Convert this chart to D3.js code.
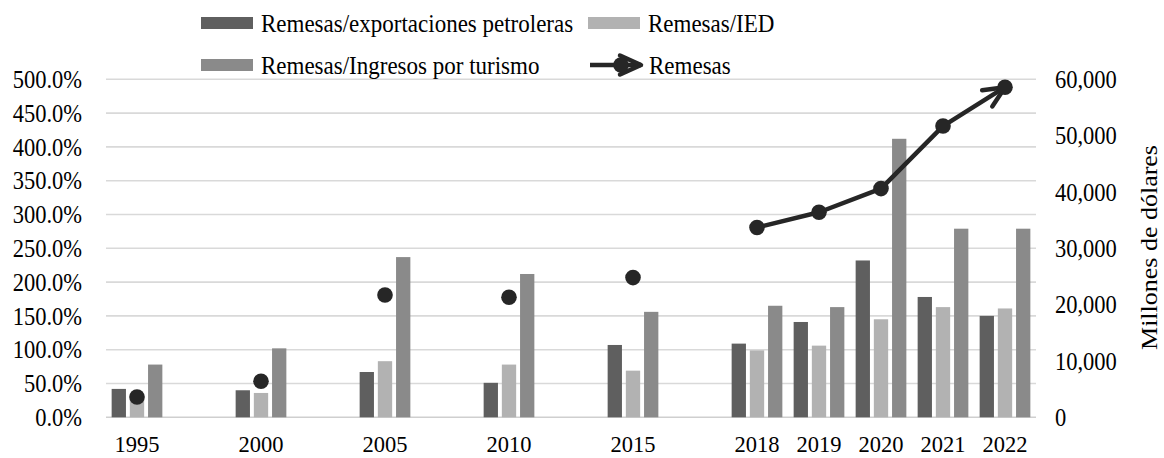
<!DOCTYPE html>
<html>
<head>
<meta charset="utf-8">
<script src="https://cdn.jsdelivr.net/npm/d3@7"></script>
<style>
  body { margin: 0; background: #fff; }
  svg text { font-family: "Liberation Serif", "Times New Roman", serif; fill: #000; }
</style>
</head>
<body>
<svg id="chart" width="1164" height="458"></svg>
<script>
// Categories. Empty slots keep the gaps between the five-year points.
var years = ["1995", "", "2000", "", "2005", "", "2010", "", "2015", "", "2018", "2019", "2020", "2021", "2022"];

// Ratios in percent (left axis).
var petroleras = [42, null, 40, null, 67, null, 51, null, 107, null, 109, 141, 232, 178, 150];
var ied        = [27, null, 36, null, 83, null, 78, null, 69, null, 99, 106, 145, 163, 161];
var turismo    = [78, null, 102, null, 237, null, 212, null, 156, null, 165, 163, 412, 279, 279];

// Remesas in millones de dólares (right axis).
var remesas = [3600, null, 6400, null, 21700, null, 21300, null, 24800, null, 33700, 36400, 40600, 51700, 58600];

var leftTicks  = [0, 50, 100, 150, 200, 250, 300, 350, 400, 450, 500];
var rightTicks = [0, 10000, 20000, 30000, 40000, 50000, 60000];

var barNames  = ["Remesas/exportaciones petroleras", "Remesas/IED", "Remesas/Ingresos por turismo"];
var barColors = ["#5f5f5f", "#b2b2b2", "#8a8a8a"];
var lineName  = "Remesas";
var lineColor = "#262626";

var svg = d3.select("#chart");

// Text in the source is a bit taller than wide; stretch it vertically.
var TEXT_K = 1.13;
function stretch(sel) {
  sel.each(function() {
    var b = this.getBBox();
    var cy = b.y + b.height / 2;
    d3.select(this).attr("transform",
      "translate(0," + cy + ") scale(1," + TEXT_K + ") translate(0," + (-cy) + ")");
  });
}

// Scales.
var x = d3.scaleBand()
  .domain(d3.range(years.length))
  .range([106, 1036]);

var xInner = d3.scaleBand()
  .domain([0, 1, 2])
  .range([0, x.bandwidth()])
  .paddingInner(0.214)
  .paddingOuter(0.31);

var yL = d3.scaleLinear().domain([0, 500]).range([417.3, 79.3]);
var yR = d3.scaleLinear().domain([0, 60000]).range([417.3, 79.3]);

// Gridlines.
svg.append("g")
  .selectAll("line")
  .data(leftTicks)
  .join("line")
  .attr("x1", 106)
  .attr("x2", 1036)
  .attr("y1", function(d) { return yL(d); })
  .attr("y2", function(d) { return yL(d); })
  .attr("stroke", function(d) { return d === 0 ? "#cfcfcf" : "#d9d9d9"; })
  .attr("stroke-width", 1.6);

// Bars.
var seriesData = [petroleras, ied, turismo];
seriesData.forEach(function(values, j) {
  svg.append("g")
    .attr("fill", barColors[j])
    .selectAll("rect")
    .data(values.map(function(v, i) { return { i: i, v: v }; })
      .filter(function(d) { return d.v != null; }))
    .join("rect")
    .attr("x", function(d) { return x(d.i) + xInner(j); })
    .attr("y", function(d) { return yL(d.v); })
    .attr("width", xInner.bandwidth())
    .attr("height", function(d) { return yL(0) - yL(d.v); });
});

// Arrow head for the end of the line.
var defs = svg.append("defs");
defs.append("marker")
  .attr("id", "arrow")
  .attr("markerUnits", "userSpaceOnUse")
  .attr("viewBox", "-26 -15 30 30")
  .attr("markerWidth", 30)
  .attr("markerHeight", 30)
  .attr("refX", 0)
  .attr("refY", 0)
  .attr("orient", "auto")
  .append("path")
  .attr("d", "M-21,-9.5L0,0L-21,9.5")
  .attr("fill", "none")
  .attr("stroke", lineColor)
  .attr("stroke-width", 4.5)
  .attr("stroke-linecap", "round")
  .attr("stroke-linejoin", "round");

var cx = function(i) { return x(i) + x.bandwidth() / 2; };

var line = d3.line()
  .defined(function(d) { return d != null; })
  .x(function(d, i) { return cx(i); })
  .y(function(d) { return yR(d); });

svg.append("path")
  .datum(remesas)
  .attr("d", line)
  .attr("fill", "none")
  .attr("stroke", lineColor)
  .attr("stroke-width", 4.5)
  .attr("stroke-linejoin", "round")
  .attr("marker-end", "url(#arrow)");

svg.append("g")
  .attr("fill", lineColor)
  .selectAll("circle")
  .data(remesas.map(function(v, i) { return { i: i, v: v }; })
    .filter(function(d) { return d.v != null; }))
  .join("circle")
  .attr("cx", function(d) { return cx(d.i); })
  .attr("cy", function(d) { return yR(d.v); })
  .attr("r", 7.8);

// Axes.
function styleAxis(g) {
  g.attr("font-size", null).attr("font-family", null);
  g.select(".domain").remove();
  g.selectAll("text").style("font-size", "22.5px");
}

var gLeft = svg.append("g")
  .attr("transform", "translate(106,0)")
  .call(d3.axisLeft(yL)
    .tickValues(leftTicks)
    .tickSize(0)
    .tickPadding(24)
    .tickFormat(function(d) { return d.toFixed(1) + "%"; }))
  .call(styleAxis);

var gRight = svg.append("g")
  .attr("transform", "translate(1036,0)")
  .call(d3.axisRight(yR)
    .tickValues(rightTicks)
    .tickSize(0)
    .tickPadding(19)
    .tickFormat(d3.format(",")))
  .call(styleAxis);

// Year labels: baseline set directly so they stay inside the picture.
var gBottom = svg.append("g")
  .attr("transform", "translate(0," + yL(0) + ")")
  .call(d3.axisBottom(x)
    .tickSize(0)
    .tickFormat(function(i) { return years[i]; }))
  .call(styleAxis);
gBottom.selectAll("text")
  .attr("dy", null)
  .attr("y", 452 - yL(0));

stretch(gLeft.selectAll("text"));
stretch(gRight.selectAll("text"));

// Right axis title.
svg.append("g")
  .attr("transform", "translate(1157,247.5) rotate(-90)")
  .append("text")
  .attr("text-anchor", "middle")
  .attr("transform", "scale(" + TEXT_K + ",1)")
  .style("font-size", "23px")
  .text("Millones de dólares");

// Legend.
var legend = svg.append("g");
var legendItems = [
  { name: barNames[0], color: barColors[0], x: 201, y: 23 },
  { name: barNames[1], color: barColors[1], x: 588, y: 23 },
  { name: barNames[2], color: barColors[2], x: 201, y: 65 }
];

legendItems.forEach(function(d) {
  legend.append("rect")
    .attr("x", d.x)
    .attr("y", d.y - 6)
    .attr("width", 52)
    .attr("height", 12)
    .attr("fill", d.color);
  legend.append("text")
    .attr("x", d.x + 60)
    .attr("y", d.y + 8)
    .style("font-size", "23px")
    .text(d.name);
});

// Line entry of the legend.
var ly = 65;
legend.append("line")
  .attr("x1", 590)
  .attr("x2", 641)
  .attr("y1", ly)
  .attr("y2", ly)
  .attr("stroke", lineColor)
  .attr("stroke-width", 4.5)
  .attr("marker-end", "url(#arrow)");
legend.append("circle")
  .attr("cx", 621)
  .attr("cy", ly)
  .attr("r", 7.8)
  .attr("fill", lineColor);
legend.append("text")
  .attr("x", 649)
  .attr("y", ly + 8)
  .style("font-size", "23px")
  .text(lineName);

stretch(legend.selectAll("text"));
</script>
</body>
</html>
